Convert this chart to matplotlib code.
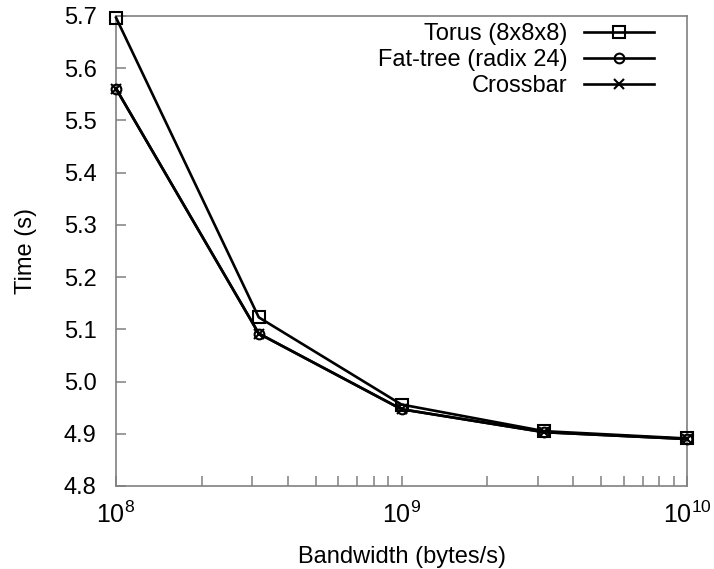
import matplotlib
matplotlib.use("Agg")
import matplotlib.pyplot as plt
from matplotlib.ticker import LogLocator, FixedLocator, NullFormatter, LogFormatterSciNotation

plt.rcParams['font.family'] = ['Liberation Sans', 'DejaVu Sans']
plt.rcParams['mathtext.fontset'] = 'custom'
plt.rcParams['mathtext.rm'] = 'Liberation Sans'

bandwidth = [1e8, 3.162e8, 1e9, 3.162e9, 1e10]
torus = [5.697, 5.123, 4.956, 4.905, 4.891]
fattree = [5.561, 5.092, 4.947, 4.903, 4.890]
crossbar = [5.561, 5.092, 4.947, 4.903, 4.890]
labels = ["Torus (8x8x8)", "Fat-tree (radix 24)", "Crossbar"]
yticks = [4.8, 4.9, 5.0, 5.1, 5.2, 5.3, 5.4, 5.5, 5.6, 5.7]

fs = 17
fig = plt.figure(figsize=(7.14, 5.69), dpi=100)
ax = fig.add_axes([116/714, 1-486/569, (687-116)/714, (486-16)/569])

lw = 1.9
ax.plot(bandwidth, torus, color='black', lw=lw, marker='s', ms=9, mfc='none', mew=1.5,
        label=labels[0], clip_on=False, zorder=3)
ax.plot(bandwidth, fattree, color='black', lw=lw, marker='o', ms=7, mfc='none', mew=1.5,
        label=labels[1], clip_on=False, zorder=3)
ax.plot(bandwidth, crossbar, color='black', lw=lw, marker='x', ms=7, mew=1.5,
        label=labels[2], clip_on=False, zorder=3)

ax.set_xscale('log')
ax.set_xlim(1e8, 1e10)
ax.set_ylim(4.8, 5.7)
ax.set_yticks(yticks)
ax.set_yticklabels([f"{v:.1f}" for v in yticks])
ax.xaxis.set_major_locator(FixedLocator([1e8, 1e9, 1e10]))
ax.xaxis.set_major_formatter(LogFormatterSciNotation())
ax.xaxis.set_minor_locator(LogLocator(base=10, subs=range(2, 10)))
ax.xaxis.set_minor_formatter(NullFormatter())

for s in ax.spines.values():
    s.set_color('#808080')
    s.set_linewidth(1.2)
ax.tick_params(axis='both', which='both', direction='in', color='#808080', width=1.1,
               labelsize=fs, top=False, right=False)
ax.tick_params(axis='y', which='major', length=7, pad=14)
ax.tick_params(axis='x', which='major', length=7, pad=11)
ax.tick_params(axis='x', which='minor', length=7)
ax.tick_params(axis='x', labelsize=fs + 1)

ax.set_xlabel("Bandwidth (bytes/s)", fontsize=fs, labelpad=13)
ax.set_ylabel("Time (s)", fontsize=fs, labelpad=19)

leg = ax.legend(loc='upper right', frameon=False, markerfirst=False, fontsize=fs,
                handlelength=2.95, handletextpad=0.7, labelspacing=0.17,
                borderaxespad=0.3, bbox_to_anchor=(0.971, 1.02))
for t in leg.get_texts():
    t.set_ha('right')
leg._legend_box.align = 'right'

fig.savefig("out.png", dpi=100)
